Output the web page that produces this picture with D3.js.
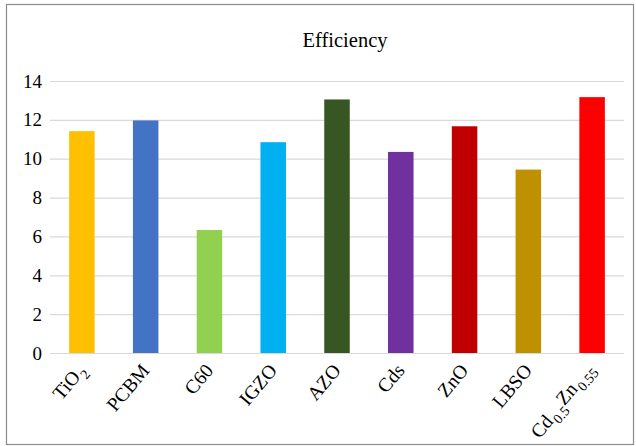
<!DOCTYPE html>
<html>
<head>
<meta charset="utf-8">
<script src="https://cdn.jsdelivr.net/npm/d3@7/dist/d3.min.js"></script>
<style>
  html, body { margin: 0; padding: 0; background: #fff; }
  svg text { font-family: "Liberation Serif", "Times New Roman", serif; }
</style>
</head>
<body>
<svg id="chart" width="636" height="446"></svg>
<script>
// Categories and the pieces of each label: [text, isSubscript]
const categories = ["TiO2", "PCBM", "C60", "IGZO", "AZO", "Cds", "ZnO", "LBSO", "Cd0.5Zn0.55"];
const labelParts = [
  [["TiO", false], ["2", true]],
  [["PCBM", false]],
  [["C60", false]],
  [["IGZO", false]],
  [["AZO", false]],
  [["Cds", false]],
  [["ZnO", false]],
  [["LBSO", false]],
  [["Cd", false], ["0.5", true], ["Zn", false], ["0.55", true]]
];
const efficiency = [11.42, 11.97, 6.33, 10.85, 13.05, 10.35, 11.67, 9.44, 13.17];
const barColors = ["#FFC000", "#4472C4", "#92D050", "#00B0F0", "#375623", "#7030A0", "#C00000", "#BF9000", "#FF0000"];
const yTicks = [0, 2, 4, 6, 8, 10, 12, 14];
const title = "Efficiency";

const serif = '"Liberation Serif", "Times New Roman", serif';
const svg = d3.select("#chart");
const plot = { left: 50, right: 624, top: 81, bottom: 353 };

// Outer frame
svg.append("rect")
  .attr("x", 6.5).attr("y", 4.5)
  .attr("width", 627).attr("height", 440)
  .attr("fill", "#fff").attr("stroke", "#8c8c8c").attr("stroke-width", 1.2);

const x = d3.scaleBand().domain(categories).range([plot.left, plot.right]).paddingInner(0.6).paddingOuter(0.3);
const y = d3.scaleLinear().domain([0, 14]).range([plot.bottom, plot.top]);

// Gridlines and value labels
const yAxis = d3.axisLeft(y).tickValues(yTicks).tickSize(-(plot.right - plot.left)).tickPadding(8);
const gy = svg.append("g").attr("transform", `translate(${plot.left},0)`).call(yAxis);
gy.attr("font-family", null).attr("font-size", null);
gy.select(".domain").remove();
gy.selectAll(".tick line").attr("stroke", "#d9d9d9").attr("stroke-width", 1.2);
gy.selectAll(".tick text")
  .attr("fill", "#000")
  .style("font-family", serif)
  .style("font-size", "19px");

// Bars
svg.append("g").selectAll("rect")
  .data(categories)
  .join("rect")
  .attr("x", d => x(d))
  .attr("width", x.bandwidth())
  .attr("y", (d, i) => y(efficiency[i]))
  .attr("height", (d, i) => y(0) - y(efficiency[i]))
  .attr("fill", (d, i) => barColors[i]);

// Category labels, rotated
const labels = svg.append("g").selectAll("text")
  .data(categories)
  .join("text")
  .attr("text-anchor", "end")
  .style("font-family", serif)
  .style("font-size", "19.5px")
  .attr("fill", "#000")
  .attr("transform", d => `translate(${x(d) + x.bandwidth() / 2 - 6},${plot.bottom + 9}) rotate(-50)`)
  .attr("dy", "0.72em");

labels.each(function(d, i) {
  const t = d3.select(this);
  let shifted = false;
  labelParts[i].forEach(([txt, sub]) => {
    const ts = t.append("tspan").text(txt);
    if (sub) {
      ts.style("font-size", "14px").attr("dx", 1.5);
      if (!shifted) { ts.attr("dy", "0.4em"); shifted = true; }
    } else if (shifted) {
      ts.attr("dy", "-0.4em"); shifted = false;
    }
  });
});

// Title
svg.append("text")
  .attr("x", 345).attr("y", 47)
  .attr("text-anchor", "middle")
  .style("font-family", serif)
  .style("font-size", "20.5px")
  .attr("fill", "#000")
  .text(title);
</script>
</body>
</html>
